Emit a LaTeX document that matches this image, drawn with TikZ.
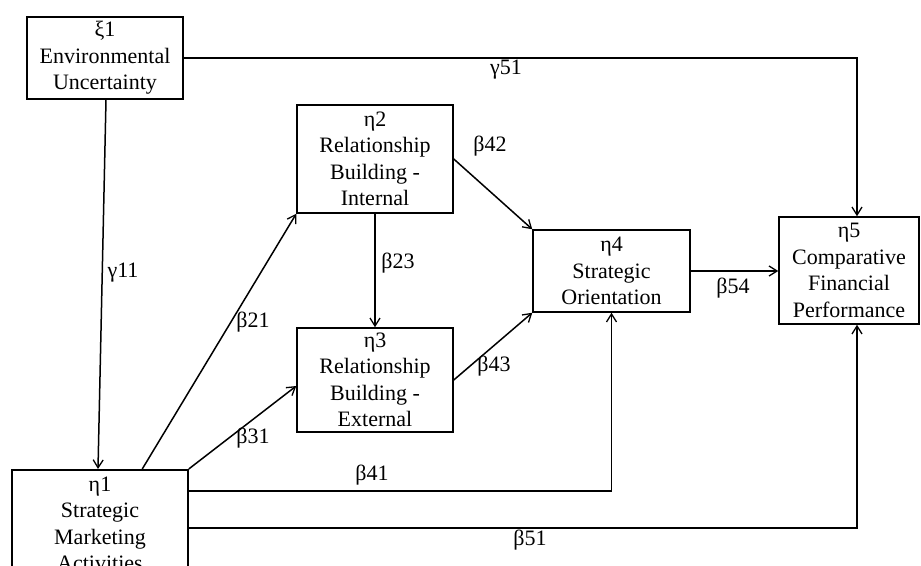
\documentclass[tikz,border=0pt]{standalone}
\usepackage{fontspec}
\setmainfont{Liberation Serif}
\usetikzlibrary{arrows.meta,calc}
\begin{document}
\begin{tikzpicture}[x=1pt,y=-1pt,
  box/.style={draw,line width=1.5pt,inner sep=0pt,align=center,
    font=\fontsize{22}{26.5}\selectfont},
  arr/.style={line width=1.5pt,-{Straight Barb[length=8pt,width=10pt,line width=1.3pt]}},
  lab/.style={font=\fontsize{22}{26}\selectfont,inner sep=0pt}]
\useasboundingbox (0,0) rectangle (921,565);
\clip (0,0) rectangle (921,565);
\node[box,minimum width=156pt,minimum height=82pt] (xi1) at (105,58) {ξ1\\Environmental\\Uncertainty};
\node[box,minimum width=156pt,minimum height=108pt] (eta2) at (375,159) {η2\\Relationship\\Building -\\Internal};
\node[box,minimum width=156pt,minimum height=104pt] (eta3) at (375,380) {η3\\Relationship\\Building -\\External};
\node[box,minimum width=157pt,minimum height=82pt] (eta4) at (611.5,271) {η4\\Strategic\\Orientation};
\node[box,minimum width=140pt,minimum height=107pt] (eta5) at (849,270.5) {η5\\Comparative\\Financial\\Performance};
\node[box,minimum width=176pt,minimum height=108pt,anchor=north] (eta1) at (100,469) {η1\\Strategic\\Marketing\\Activities};

\coordinate (s41) at ([yshift=-22pt]eta1.north east);
\coordinate (s51) at ([yshift=-59pt]eta1.north east);
\coordinate (t5n) at ([xshift=8pt]eta5.north);
\coordinate (t5s) at ([xshift=8pt]eta5.south);

\draw[arr] ([xshift=1pt]xi1.south) -- ([xshift=-2pt]eta1.north);
\draw[arr] (xi1.east) -- (t5n |- xi1.east) -- (t5n);
\draw[arr] ([xshift=131pt]eta1.north west) -- (eta2.south west);
\draw[arr] (eta1.north east) -- ([yshift=-6pt]eta3.west);
\draw[arr] (eta2.south) -- (eta3.north);
\draw[arr] (eta2.east) -- (eta4.north west);
\draw[arr] (eta3.east) -- (eta4.south west);
\draw[arr] (eta4.east) -- (eta4.east -| eta5.west);
\draw[arr] (s41) -- (eta4.south |- s41) -- (eta4.south);
\draw[arr] (s51) -- (t5s |- s51) -- (t5s);

\node[lab] (g11) at (123,273) {γ11};
\node[lab] (g51) at (506,70) {γ51};
\node[lab] (b21) at (253,322) {β21};
\node[lab] (b31) at (253,438) {β31};
\node[lab] (b41) at (372,475) {β41};
\node[lab] (b51) at (530,540) {β51};
\node[lab] (b23) at (398,263) {β23};
\node[lab] (b42) at (490,146) {β42};
\node[lab] (b43) at (494,366) {β43};
\node[lab] (b54) at (733,288) {β54};
\end{tikzpicture}
\end{document}
